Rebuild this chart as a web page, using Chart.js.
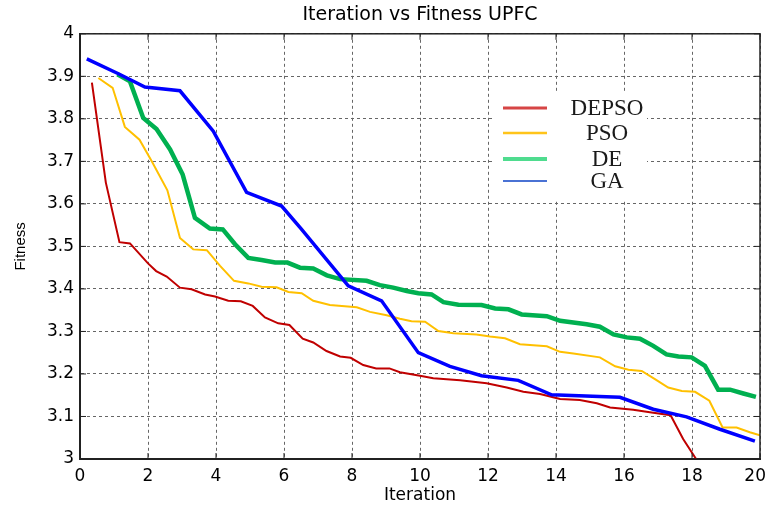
<!DOCTYPE html>
<html>
<head>
<meta charset="utf-8">
<title>Iteration vs Fitness UPFC</title>
<script src="https://cdn.jsdelivr.net/npm/chart.js@4.4.1/dist/chart.umd.min.js"></script>
<style>
  html, body { margin: 0; padding: 0; background: #fff; }
  #wrap { width: 767px; height: 506px; }
</style>
</head>
<body>
<div id="wrap"><canvas id="fitnessChart"></canvas></div>
<script>
// values
const seriesNames = ['DEPSO', 'PSO', 'DE', 'GA'];

const depsoX = [0.35, 0.76, 1.16, 1.47, 2.0, 2.24, 2.55, 2.94, 3.28, 3.68, 3.97, 4.36, 4.73, 5.08, 5.44, 5.83, 6.16, 6.55, 6.86, 7.25, 7.65, 7.96, 8.33, 8.71, 9.1, 9.41, 10.0, 10.39, 11.18, 11.96, 12.55, 13.04, 13.53, 14.12, 14.7, 15.2, 15.59, 16.27, 16.76, 17.37, 17.74, 18.12];
const depsoY = [3.885, 3.65, 3.51, 3.507, 3.46, 3.442, 3.429, 3.403, 3.399, 3.387, 3.382, 3.372, 3.371, 3.36, 3.333, 3.319, 3.315, 3.283, 3.274, 3.254, 3.241, 3.238, 3.221, 3.213, 3.213, 3.204, 3.196, 3.19, 3.185, 3.178, 3.168, 3.158, 3.153, 3.141, 3.139, 3.131, 3.121, 3.116, 3.11, 3.103, 3.047, 3.0];

const psoX = [0.54, 0.96, 1.32, 1.75, 2.11, 2.57, 2.94, 3.33, 3.73, 4.12, 4.53, 4.95, 5.34, 5.78, 6.13, 6.52, 6.86, 7.35, 8.14, 8.53, 9.02, 9.41, 9.75, 10.15, 10.54, 10.98, 11.66, 12.06, 12.5, 12.94, 13.73, 14.12, 14.51, 15.29, 15.74, 16.13, 16.52, 16.91, 17.3, 17.7, 18.09, 18.51, 18.9, 19.31, 19.7, 20.0];
const psoY = [3.896, 3.873, 3.781, 3.751, 3.70, 3.632, 3.52, 3.493, 3.491, 3.454, 3.419, 3.413, 3.405, 3.404, 3.393, 3.39, 3.372, 3.362, 3.357, 3.346, 3.338, 3.33, 3.324, 3.323, 3.301, 3.296, 3.293, 3.288, 3.284, 3.27, 3.265, 3.252, 3.248, 3.239, 3.218, 3.21, 3.207, 3.188, 3.168, 3.16, 3.158, 3.137, 3.074, 3.074, 3.063, 3.056];

const deX = [1.1, 1.47, 1.86, 2.25, 2.65, 3.02, 3.38, 3.82, 4.2, 4.56, 4.95, 5.34, 5.74, 6.1, 6.47, 6.86, 7.26, 7.65, 8.43, 8.82, 9.21, 9.61, 9.95, 10.34, 10.69, 11.13, 11.81, 12.21, 12.6, 12.99, 13.73, 14.12, 14.9, 15.29, 15.69, 16.08, 16.47, 16.86, 17.25, 17.6, 17.99, 18.38, 18.77, 19.12, 19.51, 19.88];
const deY = [3.905, 3.888, 3.802, 3.776, 3.728, 3.669, 3.567, 3.542, 3.54, 3.505, 3.473, 3.468, 3.462, 3.462, 3.45, 3.448, 3.432, 3.423, 3.419, 3.409, 3.403, 3.395, 3.39, 3.387, 3.369, 3.363, 3.362, 3.354, 3.352, 3.34, 3.336, 3.325, 3.317, 3.311, 3.293, 3.286, 3.283, 3.266, 3.246, 3.241, 3.239, 3.219, 3.163, 3.163, 3.154, 3.146];

const gaX = [0.2, 1.13, 1.91, 2.94, 3.92, 4.9, 5.93, 6.5, 7.89, 8.87, 9.95, 10.88, 11.81, 12.89, 13.87, 15.88, 16.86, 17.84, 18.82, 19.85];
const gaY = [3.941, 3.906, 3.875, 3.866, 3.771, 3.627, 3.595, 3.542, 3.407, 3.372, 3.25, 3.218, 3.196, 3.185, 3.151, 3.145, 3.117, 3.099, 3.07, 3.042];

const xTicks = [0, 2, 4, 6, 8, 10, 12, 14, 16, 18, 20];
const yTicks = [3, 3.1, 3.2, 3.3, 3.4, 3.5, 3.6, 3.7, 3.8, 3.9, 4];

const lineColors = ['#c00000', '#ffc000', '#00b050', '#0000ff'];
const lineWidths = [2, 2, 4.5, 3.5];
const legendColors = ['#d64545', '#ffc41a', '#4fdc8f', '#4a72d4'];
const legendWidths = [3, 2.5, 4, 2];

const sansFont = '"DejaVu Sans", "Liberation Sans", Arial, sans-serif';

function toPoints(xs, ys) {
    return xs.map((x, i) => ({ x: x, y: ys[i] }));
}

// picture-style legend: white box, short line and the name to its right
const boxLegend = {
    id: 'boxLegend',
    afterDatasetsDraw(chart) {
        const ctx = chart.ctx;
        const rowsY = [108, 133, 159, 181];
        ctx.save();
        ctx.fillStyle = '#ffffff';
        ctx.fillRect(494, 92, 153, 108);
        chart.data.datasets.forEach((ds, i) => {
            ctx.strokeStyle = legendColors[i];
            ctx.lineWidth = legendWidths[i];
            ctx.beginPath();
            ctx.moveTo(503, rowsY[i]);
            ctx.lineTo(547, rowsY[i]);
            ctx.stroke();
            ctx.fillStyle = '#1a1a1a';
            ctx.font = '23px "Liberation Serif", "DejaVu Serif", serif';
            ctx.textAlign = 'center';
            ctx.textBaseline = 'middle';
            ctx.fillText(ds.label, 607, rowsY[i] + 1);
        });
        ctx.restore();
    }
};

// frame, small inward tick marks, and the last x label which sits left of its tick
const innerTicks = {
    id: 'innerTicks',
    afterDraw(chart) {
        const a = chart.chartArea;
        const c = chart.ctx;
        const xs = chart.scales.x;
        const ys = chart.scales.y;
        c.save();
        c.strokeStyle = '#222';
        c.lineWidth = 1.5;
        c.strokeRect(a.left, a.top, a.right - a.left, a.bottom - a.top);
        c.lineWidth = 1;
        c.beginPath();
        xTicks.forEach(v => {
            const px = xs.getPixelForValue(v);
            c.moveTo(px, a.bottom); c.lineTo(px, a.bottom - 6);
            c.moveTo(px, a.top); c.lineTo(px, a.top + 6);
        });
        yTicks.forEach(v => {
            const py = ys.getPixelForValue(v);
            c.moveTo(a.left, py); c.lineTo(a.left + 6, py);
            c.moveTo(a.right, py); c.lineTo(a.right - 6, py);
        });
        c.stroke();
        const last = xTicks[xTicks.length - 1];
        c.fillStyle = '#000';
        c.font = '17px ' + sansFont;
        c.textAlign = 'right';
        c.textBaseline = 'middle';
        c.fillText(String(last), 766, 477);
        c.restore();
    }
};

document.addEventListener('DOMContentLoaded', function() {
    const allX = [depsoX, psoX, deX, gaX];
    const allY = [depsoY, psoY, deY, gaY];

    const datasets = seriesNames.map((name, i) => ({
        label: name,
        data: toPoints(allX[i], allY[i]),
        borderColor: lineColors[i],
        backgroundColor: lineColors[i],
        borderWidth: lineWidths[i],
        pointRadius: 0,
        tension: 0,
        fill: false,
        order: [3, 4, 2, 1][i]
    }));

    const ctx = document.getElementById('fitnessChart').getContext('2d');
    new Chart(ctx, {
        type: 'line',
        data: { datasets: datasets },
        options: {
            responsive: true,
            maintainAspectRatio: false,
            animation: false,
            layout: { padding: { left: 12, right: 7, top: 0, bottom: 0 } },
            plugins: {
                legend: { display: false },
                tooltip: { enabled: false },
                title: {
                    display: true,
                    fullSize: false,
                    text: 'Iteration vs Fitness UPFC',
                    color: '#000',
                    font: { family: sansFont, size: 19, weight: 'normal' },
                    padding: { top: 4, bottom: 7 }
                }
            },
            scales: {
                x: {
                    type: 'linear',
                    min: 0,
                    max: 20,
                    afterBuildTicks: function(scale) {
                        scale.ticks = xTicks.map(v => ({ value: v }));
                    },
                    afterFit: function(scale) {
                        scale.height = 47;
                        scale.paddingRight = 0;
                        scale.paddingLeft = 0;
                    },
                    ticks: {
                        color: '#000',
                        padding: 7,
                        maxRotation: 0,
                        font: { family: sansFont, size: 17 },
                        callback: function(value) { return value === 20 ? '' : String(value); }
                    },
                    grid: { color: '#666', lineWidth: 1, drawTicks: false },
                    border: { display: true, color: '#222', width: 2, dash: [3, 3] },
                    title: {
                        display: true,
                        text: 'Iteration',
                        color: '#000',
                        padding: { top: 0, bottom: 0 },
                        font: { family: sansFont, size: 17 }
                    }
                },
                y: {
                    type: 'linear',
                    min: 3,
                    max: 4,
                    afterBuildTicks: function(scale) {
                        scale.ticks = yTicks.map(v => ({ value: v }));
                    },
                    afterFit: function(scale) { scale.width = 68; },
                    ticks: {
                        color: '#000',
                        padding: 6,
                        font: { family: sansFont, size: 17 },
                        callback: function(value) { return String(Math.round(value * 10) / 10); }
                    },
                    grid: { color: '#666', lineWidth: 1, drawTicks: false },
                    border: { display: true, color: '#222', width: 2, dash: [3, 3] },
                    title: {
                        display: true,
                        text: 'Fitness',
                        color: '#000',
                        padding: { top: 0, bottom: 4 },
                        font: { family: '"Liberation Sans", Arial, sans-serif', size: 15 }
                    }
                }
            }
        },
        plugins: [boxLegend, innerTicks]
    });
});
</script>
</body>
</html>
